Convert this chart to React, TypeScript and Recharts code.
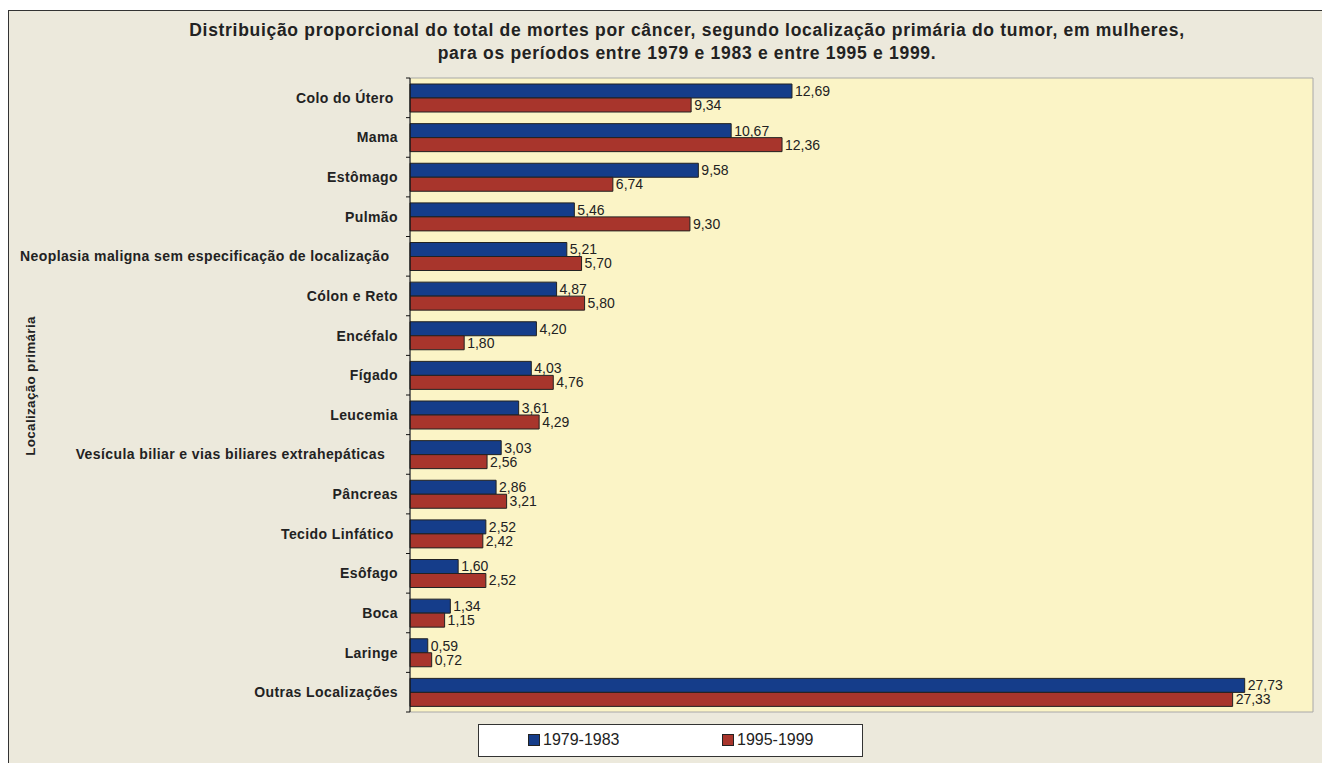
import { BarChart, Bar, XAxis, YAxis, LabelList, ReferenceArea, CartesianGrid } from 'recharts';

const categories = [
  'Colo do Útero ',
  'Mama',
  'Estômago',
  'Pulmão',
  'Neoplasia maligna sem especificação de localização  ',
  'Cólon e Reto',
  'Encéfalo',
  'Fígado',
  'Leucemia',
  'Vesícula biliar e vias biliares extrahepáticas   ',
  'Pâncreas',
  'Tecido Linfático ',
  'Esôfago',
  'Boca',
  'Laringe',
  'Outras Localizações',
];
const periodo1979 = [12.69, 10.67, 9.58, 5.46, 5.21, 4.87, 4.2, 4.03, 3.61, 3.03, 2.86, 2.52, 1.6, 1.34, 0.59, 27.73];
const periodo1995 = [9.34, 12.36, 6.74, 9.3, 5.7, 5.8, 1.8, 4.76, 4.29, 2.56, 3.21, 2.42, 2.52, 1.15, 0.72, 27.33];
const series = [
  { key: 'p1', name: '1979-1983', color: '#153d8a' },
  { key: 'p2', name: '1995-1999', color: '#a8352c' },
];

const data = categories.map((c, i) => ({ name: c, p1: periodo1979[i], p2: periodo1995[i] }));

const FONT = '"Liberation Sans", Arial, Helvetica, sans-serif';
const fmt = (v: any) => Number(v).toFixed(2).replace('.', ',');

const W = 1313;
const H = 752;
const MARGIN = { top: 67, right: 8, bottom: 51, left: 0 };
const TICK_SIZE = 4;
const TICK_MARGIN = 8;
const band = (H - MARGIN.top - MARGIN.bottom) / categories.length;

// Excel-style ticks sit on the category boundaries, not the centres
const CategoryTick = (props: any) => {
  const { x, y, payload, index } = props;
  const label = String(payload.value).replace(/ +$/, (m) => '\u00a0'.repeat(m.length));
  const ax = x + TICK_SIZE + TICK_MARGIN;
  return (
    <g>
      <line x1={ax - TICK_SIZE} x2={ax} y1={y - band / 2} y2={y - band / 2} stroke="#111" />
      {index === categories.length - 1 && (
        <line x1={ax - TICK_SIZE} x2={ax} y1={y + band / 2} y2={y + band / 2} stroke="#111" />
      )}
      <text
        x={x}
        y={y}
        dy={5}
        textAnchor="end"
        fontFamily={FONT}
        fontSize={14}
        fontWeight="bold"
        letterSpacing={0.4}
        fill="#222"
        style={{ whiteSpace: 'pre' }}
      >
        {label}
      </text>
    </g>
  );
};

export default function App() {
  return (
    <div
      style={{
        position: 'fixed',
        left: 8,
        top: 10,
        width: W,
        height: H,
        background: '#ece9dc',
        borderLeft: '1px solid #333',
        borderTop: '1px solid #333',
        fontFamily: FONT,
      }}
    >
      <div
        style={{
          position: 'absolute',
          left: 0,
          width: 1356,
          top: 8,
          textAlign: 'center',
          fontWeight: 'bold',
          fontSize: 17.5,
          letterSpacing: 0.7,
          lineHeight: '23px',
          color: '#222',
        }}
      >
        Distribuição proporcional do total de mortes por câncer, segundo localização primária do tumor, em mulheres,
        <br />
        para os períodos entre 1979 e 1983 e entre 1995 e 1999.
      </div>
      <div
        style={{
          position: 'absolute',
          left: 21,
          top: 375,
          transform: 'translate(-50%, -50%) rotate(-90deg)',
          whiteSpace: 'nowrap',
          fontWeight: 'bold',
          fontSize: 13.5,
          letterSpacing: 0.3,
          color: '#222',
        }}
      >
        Localização primária
      </div>
      <BarChart
        width={W - 1}
        height={H}
        data={data}
        layout="vertical"
        margin={MARGIN}
        barGap={0}
        barSize={14}
      >
        <CartesianGrid horizontal={false} vertical={false} fill="#fbf4c6" fillOpacity={1} />
        <ReferenceArea x1={0} x2={30} fill="none" stroke="#a8a8a8" ifOverflow="visible" />
        <XAxis type="number" domain={[0, 30]} hide />
        <YAxis
          type="category"
          dataKey="name"
          width={401}
          axisLine={{ stroke: '#111' }}
          tickLine={false}
          tickSize={TICK_SIZE}
          tickMargin={TICK_MARGIN}
          tick={<CategoryTick />}
          interval={0}
        />
        {series.map((s) => (
          <Bar key={s.key} dataKey={s.key} name={s.name} fill={s.color} stroke="#222" strokeWidth={1} isAnimationActive={false}>
            <LabelList dataKey={s.key} position="right" offset={3} formatter={fmt} fontFamily={FONT} fontSize={14} fill="#222" />
          </Bar>
        ))}
      </BarChart>
      <div
        style={{
          position: 'absolute',
          left: 469,
          top: 713,
          width: 383,
          height: 31,
          background: '#fff',
          border: '1px solid #333',
          fontSize: 16,
          color: '#222',
        }}
      >
        {series.map((s, i) => (
          <div
            key={s.key}
            style={{ position: 'absolute', left: i === 0 ? 49 : 243, top: 6, display: 'flex', alignItems: 'center', lineHeight: '18px' }}
          >
            <span style={{ display: 'inline-block', width: 10, height: 10, background: s.color, border: '1px solid #222', marginRight: 3 }} />
            {s.name}
          </div>
        ))}
      </div>
    </div>
  );
}
